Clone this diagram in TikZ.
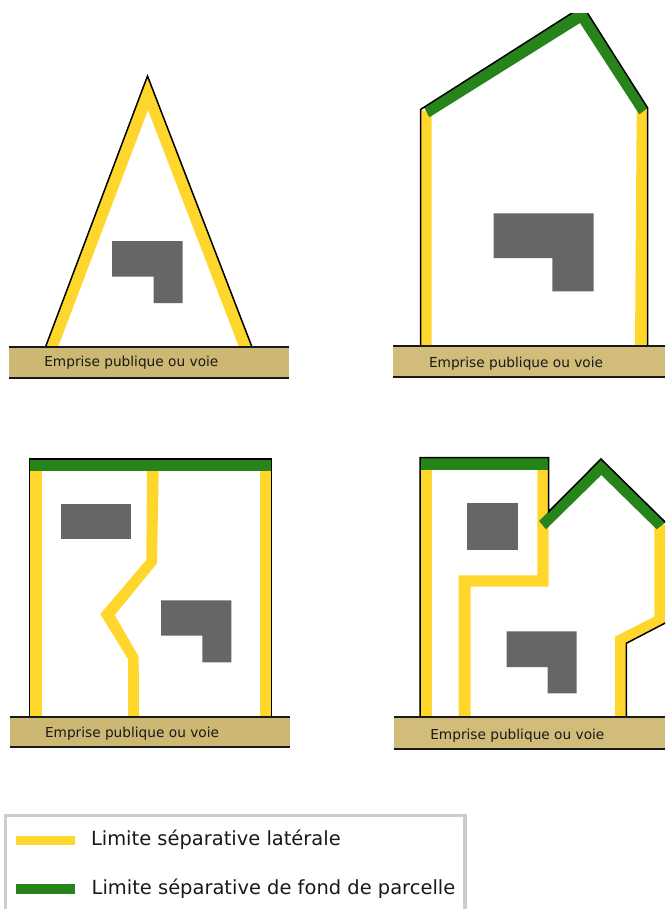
\documentclass[tikz,border=0pt]{standalone}
\usepackage{fontspec}
\setmainfont{DejaVu Sans}
\definecolor{yel}{HTML}{FFD62B}
\definecolor{grn}{HTML}{26841B}
\definecolor{bld}{HTML}{666666}
\definecolor{roadA}{HTML}{CDB873}
\definecolor{roadB}{HTML}{D2BC7A}
\definecolor{frameg}{HTML}{CCCCCC}
\tikzset{
  lat/.style={fill=yel,draw=none},
  fond/.style={fill=grn,draw=none},
  building/.style={fill=bld,draw=none},
  outline/.style={draw=black,line width=1.5pt,line join=miter,fill=none},
  roadedge/.style={draw=black!90,line width=1.8pt},
  roadtext/.style={anchor=base west,inner sep=0pt,outer sep=0pt,font=\fontsize{13.7}{15}\selectfont,text=black!90},
  legtext/.style={anchor=base west,inner sep=0pt,outer sep=0pt,font=\fontsize{19.47}{23}\selectfont,text=black!90}
}
\begin{document}
\begin{tikzpicture}[x=1pt,y=-1pt]
\clip (0,0) rectangle (665,909);
\fill[white] (0,0) rectangle (665,909);

% Panel 1
\fill[lat] (45.5,347) -- (147.5,76) -- (252,347) -- (239,347) -- (148,110) -- (58,347) -- cycle;
\draw[outline] (45.5,347) -- (147.5,76) -- (252,347);
\fill[building] (112,241) -- (182.7,241) -- (182.7,303) -- (153.5,303) -- (153.5,276.7) -- (112,276.7) -- cycle;
\fill[roadA] (9,347) rectangle (289,378);
\draw[roadedge] (9,347) -- (289,347) (9,377.7) -- (289,377.7);
\node[roadtext] (t1) at (44.3,366.5) {Emprise publique ou voie};

% Panel 2
\begin{scope}
\clip (380,14) rectangle (665,400);
\fill[lat] (420.5,109.5) -- (431.7,114) -- (431.7,345.5) -- (420.5,345.5) -- cycle;
\fill[lat] (636.7,110) -- (647.7,106) -- (647.7,345.5) -- (635,345.5) -- cycle;
\fill[fond] (424,107.3) -- (583,6) -- (647.7,108) -- (639.3,114.3) -- (580,23) -- (429.3,117.3) -- cycle;
\draw[outline] (420.5,345.5) -- (420.5,109.5) -- (583,6) -- (647.7,108) -- (647.7,345.5);
\end{scope}
\fill[building] (493.7,213.3) -- (593.7,213.3) -- (593.7,291.3) -- (552.3,291.3) -- (552.3,258) -- (493.7,258) -- cycle;
\fill[roadB] (393.3,345.5) rectangle (665,377);
\draw[roadedge] (393.3,345.7) -- (665,345.7) (393.3,376.7) -- (665,376.7);
\node[roadtext] (t2) at (429,367) {Emprise publique ou voie};

% Panel 3
\fill[lat] (30,471) rectangle (42,717);
\fill[lat] (259.7,471) rectangle (271,717);
\fill[lat] (147,471) -- (158.7,471) -- (157,563.3) -- (114.7,615) -- (138.7,656.7) -- (139,717) -- (128,717) -- (128,659) -- (100.3,614) -- (146.3,560) -- cycle;
\fill[fond] (29.7,459) rectangle (271.3,471);
\draw[outline] (29.7,717) -- (29.7,459) -- (271.3,459) -- (271.3,717);
\fill[building] (61,504) rectangle (131.3,539.3);
\fill[building] (161,600.3) -- (231.3,600.3) -- (231.3,662.3) -- (202.3,662.3) -- (202.3,635.7) -- (161,635.7) -- cycle;
\fill[roadA] (9.7,717) rectangle (290,747);
\draw[roadedge] (9.7,717) -- (290,717) (9.7,746.7) -- (290,746.7);
\node[roadtext] (t3) at (45,737.3) {Emprise publique ou voie};

% Panel 4
\fill[lat] (420,470) rectangle (431.7,717);
\fill[lat] (537.3,470) -- (548.7,470) -- (548.7,586.7) -- (470.7,586.7) -- (470.7,717) -- (458.7,717) -- (458.7,575.3) -- (537.3,575.3) -- cycle;
\fill[lat] (654.3,525) -- (666,525) -- (666,623) -- (626.3,643.3) -- (626.3,717) -- (615,717) -- (615,636.7) -- (654.3,616.7) -- cycle;
\fill[fond] (420,458) rectangle (548.7,470);
\fill[fond] (539,521) -- (601,459) -- (666,522) -- (656.7,529.3) -- (601.3,475) -- (546,529.3) -- cycle;
\draw[outline] (420,717) -- (420,457.7) -- (548.7,457.7) -- (548.7,511.5) -- (601,459) -- (666,523);
\draw[outline] (666,622.6) -- (626.3,643.3) -- (626.3,718);
\fill[building] (467.3,503.3) rectangle (518.3,550.3);
\fill[building] (506.7,631.3) -- (576.7,631.3) -- (576.7,693.3) -- (547.7,693.3) -- (547.7,667) -- (506.7,667) -- cycle;
\fill[roadB] (394.3,717) rectangle (665,749.3);
\draw[roadedge] (394.3,717) -- (665,717) (394.3,749) -- (665,749);
\node[roadtext] (t4) at (430.3,739) {Emprise publique ou voie};

% Legend
\draw[frameg,line width=3.4pt] (5.7,920) -- (5.7,815.7) -- (465,815.7) -- (465,920);
\fill[lat] (16.3,836) rectangle (75,845.3);
\fill[fond] (16.3,884) rectangle (75,893.5);
\node[legtext] (l1) at (91,845) {Limite séparative latérale};
\node[legtext] (l2) at (91.7,894.5) {Limite séparative de fond de parcelle};
\end{tikzpicture}
\end{document}
